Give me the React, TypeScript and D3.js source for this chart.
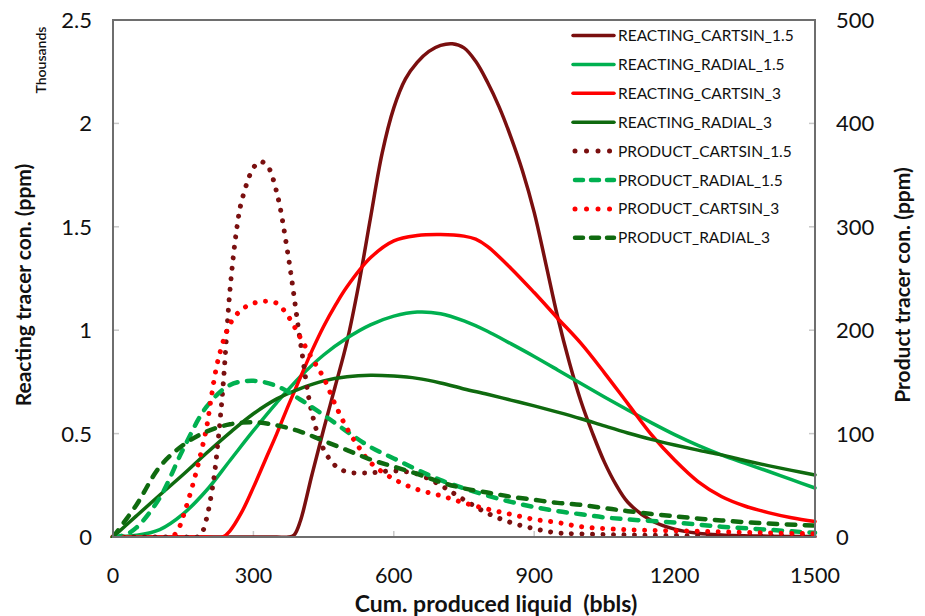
import React from "react";
import * as d3 from "d3";

type Pt = [number, number];

// Cumulative produced liquid (bbls) vs. tracer concentration (ppm)
const reactingCartsin15: Pt[] = [
  [0, 0], [100, 0], [200, 0], [300, 0], [350, 0], [375, 0], [387, 10], [400, 75],
  [425, 300], [450, 520], [475, 730], [500, 945], [525, 1220], [550, 1540], [575, 1855],
  [600, 2075], [625, 2215], [650, 2295], [675, 2348], [700, 2377], [725, 2385],
  [750, 2365], [775, 2300], [800, 2200], [825, 2080], [850, 1935], [875, 1770],
  [900, 1570], [925, 1320], [950, 1065], [975, 845], [1000, 655], [1025, 500],
  [1050, 362], [1075, 252], [1100, 168], [1150, 80], [1200, 38], [1250, 18],
  [1300, 10], [1400, 4], [1500, 2],
];

const reactingRadial15: Pt[] = [
  [0, 0], [50, 8], [100, 36], [150, 112], [200, 226], [250, 370], [300, 514],
  [350, 650], [400, 775], [450, 880], [500, 962], [550, 1026], [600, 1068],
  [650, 1088], [700, 1080], [750, 1045], [800, 995], [850, 935], [900, 873],
  [950, 808], [1000, 742], [1050, 677], [1100, 614], [1150, 553], [1200, 495],
  [1250, 443], [1300, 397], [1350, 357], [1400, 318], [1450, 277], [1500, 237],
];

const reactingCartsin3: Pt[] = [
  [0, 0], [100, 0], [200, 0], [235, 0], [250, 30], [275, 120], [300, 240],
  [325, 370], [350, 500], [375, 638], [400, 770], [425, 900], [450, 1018],
  [475, 1120], [500, 1210], [550, 1350], [600, 1432], [650, 1458], [700, 1463],
  [750, 1455], [775, 1440], [800, 1405], [850, 1300], [900, 1182], [950, 1058],
  [1000, 936], [1050, 794], [1100, 645], [1150, 496], [1200, 372], [1250, 268],
  [1300, 196], [1350, 150], [1400, 118], [1450, 93], [1500, 75],
];

const reactingRadial3: Pt[] = [
  [0, 0], [50, 102], [100, 203], [150, 302], [200, 406], [250, 505], [300, 596],
  [350, 668], [400, 718], [450, 755], [500, 775], [550, 782], [600, 778],
  [650, 767], [700, 745], [750, 716], [800, 690], [850, 662], [900, 634],
  [950, 604], [1000, 572], [1050, 537], [1100, 503], [1150, 472], [1200, 445],
  [1250, 420], [1300, 397], [1350, 370], [1400, 345], [1450, 322], [1500, 300],
];

const productCartsin15: Pt[] = [
  [0, 0], [150, 0], [180, 0], [190, 4], [200, 18], [215, 55], [225, 95],
  [235, 145], [250, 239], [265, 300], [275, 325], [300, 357], [315, 363],
  [330, 359], [350, 333], [375, 270], [400, 190], [425, 120], [450, 85],
  [475, 69], [500, 63], [550, 62], [600, 64], [650, 61], [700, 50], [750, 36],
  [800, 23], [850, 14], [900, 8], [950, 4], [1000, 3], [1100, 2], [1300, 1],
  [1500, 1],
];

const productRadial15: Pt[] = [
  [0, 0], [25, 2], [50, 9], [100, 38], [150, 85], [200, 126], [250, 147],
  [300, 151], [350, 146], [400, 133], [450, 118], [500, 102], [550, 87],
  [600, 76], [650, 65], [700, 55], [750, 47], [800, 40], [850, 34], [900, 29],
  [950, 25], [1000, 22], [1050, 19], [1100, 17], [1200, 14], [1300, 10],
  [1400, 7], [1500, 4],
];

const productCartsin3: Pt[] = [
  [0, 0], [125, 0], [140, 8], [150, 20], [175, 58], [200, 106], [210, 135],
  [225, 172], [250, 206], [275, 220], [300, 226], [325, 228], [350, 226],
  [375, 213], [400, 193], [425, 173], [450, 154], [475, 128], [500, 105],
  [525, 87], [550, 72], [600, 56], [650, 46], [700, 40], [750, 33], [800, 27],
  [850, 22], [900, 17], [950, 14], [1000, 10], [1100, 7], [1200, 6], [1300, 5],
  [1400, 4], [1500, 3],
];

const productRadial3: Pt[] = [
  [0, 0], [50, 31], [100, 68], [150, 89], [200, 102], [250, 109], [300, 111],
  [350, 108], [400, 102], [450, 93], [500, 84], [550, 75], [600, 68], [650, 61],
  [700, 53], [750, 47], [800, 43], [850, 39], [900, 36], [950, 33], [1000, 31],
  [1050, 28], [1100, 25], [1200, 20], [1300, 16], [1400, 13], [1500, 11],
];

const xTicks = [0, 300, 600, 900, 1200, 1500];
const leftTicks = [0, 500, 1000, 1500, 2000, 2500];
const rightTicks = [0, 100, 200, 300, 400, 500];

const DARK_RED = "#7a0f0f";
const LIGHT_GREEN = "#00b050";
const RED = "#ff0000";
const DARK_GREEN = "#0f6a0f";

type Style = "solid" | "dot" | "dash";
interface Series {
  name: string;
  data: Pt[];
  color: string;
  style: Style;
  axis: "left" | "right";
}

const series: Series[] = [
  { name: "REACTING_CARTSIN_1.5", data: reactingCartsin15, color: DARK_RED, style: "solid", axis: "left" },
  { name: "REACTING_RADIAL_1.5", data: reactingRadial15, color: LIGHT_GREEN, style: "solid", axis: "left" },
  { name: "REACTING_CARTSIN_3", data: reactingCartsin3, color: RED, style: "solid", axis: "left" },
  { name: "REACTING_RADIAL_3", data: reactingRadial3, color: DARK_GREEN, style: "solid", axis: "left" },
  { name: "PRODUCT_CARTSIN_1.5", data: productCartsin15, color: DARK_RED, style: "dot", axis: "right" },
  { name: "PRODUCT_RADIAL_1.5", data: productRadial15, color: LIGHT_GREEN, style: "dash", axis: "right" },
  { name: "PRODUCT_CARTSIN_3", data: productCartsin3, color: RED, style: "dot", axis: "right" },
  { name: "PRODUCT_RADIAL_3", data: productRadial3, color: DARK_GREEN, style: "dash", axis: "right" },
];

const W = 925;
const H = 616;
const plot = { left: 113, right: 815, top: 20, bottom: 537 };
const FONT = "Lato, 'Open Sans', sans-serif";

function strokeProps(style: Style) {
  if (style === "dot")
    return { strokeWidth: 5, strokeDasharray: "0.01 10.5", strokeLinecap: "round" as const };
  if (style === "dash")
    return { strokeWidth: 4.5, strokeDasharray: "8.5 9.5", strokeLinecap: "round" as const };
  return { strokeWidth: 3.5, strokeLinecap: "round" as const };
}

export default function App() {
  const x = d3.scaleLinear().domain([0, 1500]).range([plot.left, plot.right]);
  const yL = d3.scaleLinear().domain([0, 2500]).range([plot.bottom, plot.top]);
  const yR = d3.scaleLinear().domain([0, 500]).range([plot.bottom, plot.top]);

  // reacting series use the left (ppm) axis, product series the right one
  const makeLine = (s: Series) =>
    d3
      .line<Pt>()
      .x((d) => x(d[0]))
      .y((d) => (s.axis === "left" ? yL(d[1]) : yR(d[1])))
      .curve(d3.curveCatmullRom.alpha(0.5))(s.data) || "";

  const legendX = 573;
  const legendY0 = 35.5;
  const legendDy = 28.9;

  return (
    <svg
      width={W}
      height={H}
      viewBox={`0 0 ${W} ${H}`}
      style={{ position: "absolute", left: 0, top: 0, background: "#fff" }}
      fontFamily={FONT}
    >
      <defs>
        {/* keeps smoothed segments from dipping below the baseline */}
        <clipPath id="plotClip">
          <rect x={plot.left - 3} y={plot.top - 3} width={plot.right - plot.left + 6} height={plot.bottom - plot.top + 4} />
        </clipPath>
      </defs>
      <rect x={0} y={0} width={W} height={H} fill="#fff" />

      {/* tick marks */}
      {leftTicks.slice(1, -1).map((t) => (
        <line key={`lt${t}`} x1={plot.left} x2={plot.left + 6} y1={yL(t)} y2={yL(t)} stroke="#c8c8c8" strokeWidth={1.5} />
      ))}
      {rightTicks.slice(1, -1).map((t) => (
        <line key={`rt${t}`} x1={plot.right - 6} x2={plot.right} y1={yR(t)} y2={yR(t)} stroke="#c8c8c8" strokeWidth={1.5} />
      ))}
      {xTicks.slice(1, -1).map((t) => (
        <line key={`xt${t}`} x1={x(t)} x2={x(t)} y1={plot.bottom - 6} y2={plot.bottom} stroke="#c8c8c8" strokeWidth={1.5} />
      ))}

      {/* series */}
      <g fill="none" clipPath="url(#plotClip)">
        {series.map((s) => (
          <path key={s.name} d={makeLine(s)} stroke={s.color} {...strokeProps(s.style)} />
        ))}
      </g>

      {/* plot frame */}
      <rect
        x={plot.left}
        y={plot.top}
        width={plot.right - plot.left}
        height={plot.bottom - plot.top}
        fill="none"
        stroke="#6e6e6e"
        strokeWidth={2}
      />

      {/* left axis labels (thousands) */}
      {leftTicks.map((t) => (
        <text key={`ll${t}`} x={92} y={yL(t) + 8} fontSize={22} textAnchor="end" fill="#111">
          {d3.format("~g")(t / 1000)}
        </text>
      ))}
      {/* right axis labels */}
      {rightTicks.map((t) => (
        <text key={`rl${t}`} x={836} y={yR(t) + 8} fontSize={22} textAnchor="start" fill="#111">
          {t}
        </text>
      ))}
      {/* x axis labels */}
      {xTicks.map((t) => (
        <text key={`xl${t}`} x={x(t)} y={583} fontSize={21.5} textAnchor="middle" fill="#111">
          {t}
        </text>
      ))}

      {/* axis titles */}
      <text x={496} y={612} fontSize={23} fontWeight="bold" textAnchor="middle" fill="#111">
        Cum. produced liquid{"\u00a0\u00a0"}(bbls)
      </text>
      <text
        transform="translate(31,285) rotate(-90)"
        fontSize={21}
        fontWeight="bold"
        textAnchor="middle"
        fill="#111"
      >
        Reacting tracer con. (ppm)
      </text>
      <text
        transform="translate(910,285) rotate(-90)"
        fontSize={21}
        fontWeight="bold"
        textAnchor="middle"
        fill="#111"
      >
        Product tracer con. (ppm)
      </text>
      <text
        transform="translate(46,60) rotate(-90)"
        fontSize={14}
        fontWeight={600}
        textAnchor="middle"
        fill="#111"
      >
        Thousands
      </text>

      {/* legend */}
      {series.map((s, i) => {
        const ly = legendY0 + i * legendDy;
        return (
          <g key={`lg${s.name}`}>
            <line
              x1={legendX + (s.style === "solid" ? 0 : 2)}
              x2={legendX + 41}
              y1={ly}
              y2={ly}
              stroke={s.color}
              fill="none"
              {...strokeProps(s.style)}
              strokeDasharray={s.style === "dot" ? "0.01 11.5" : s.style === "dash" ? "8 8" : undefined}
            />
            <text x={legendX + 45} y={ly + 5.5} fontSize={15.5} fill="#111">
              {s.name}
            </text>
          </g>
        );
      })}
    </svg>
  );
}
